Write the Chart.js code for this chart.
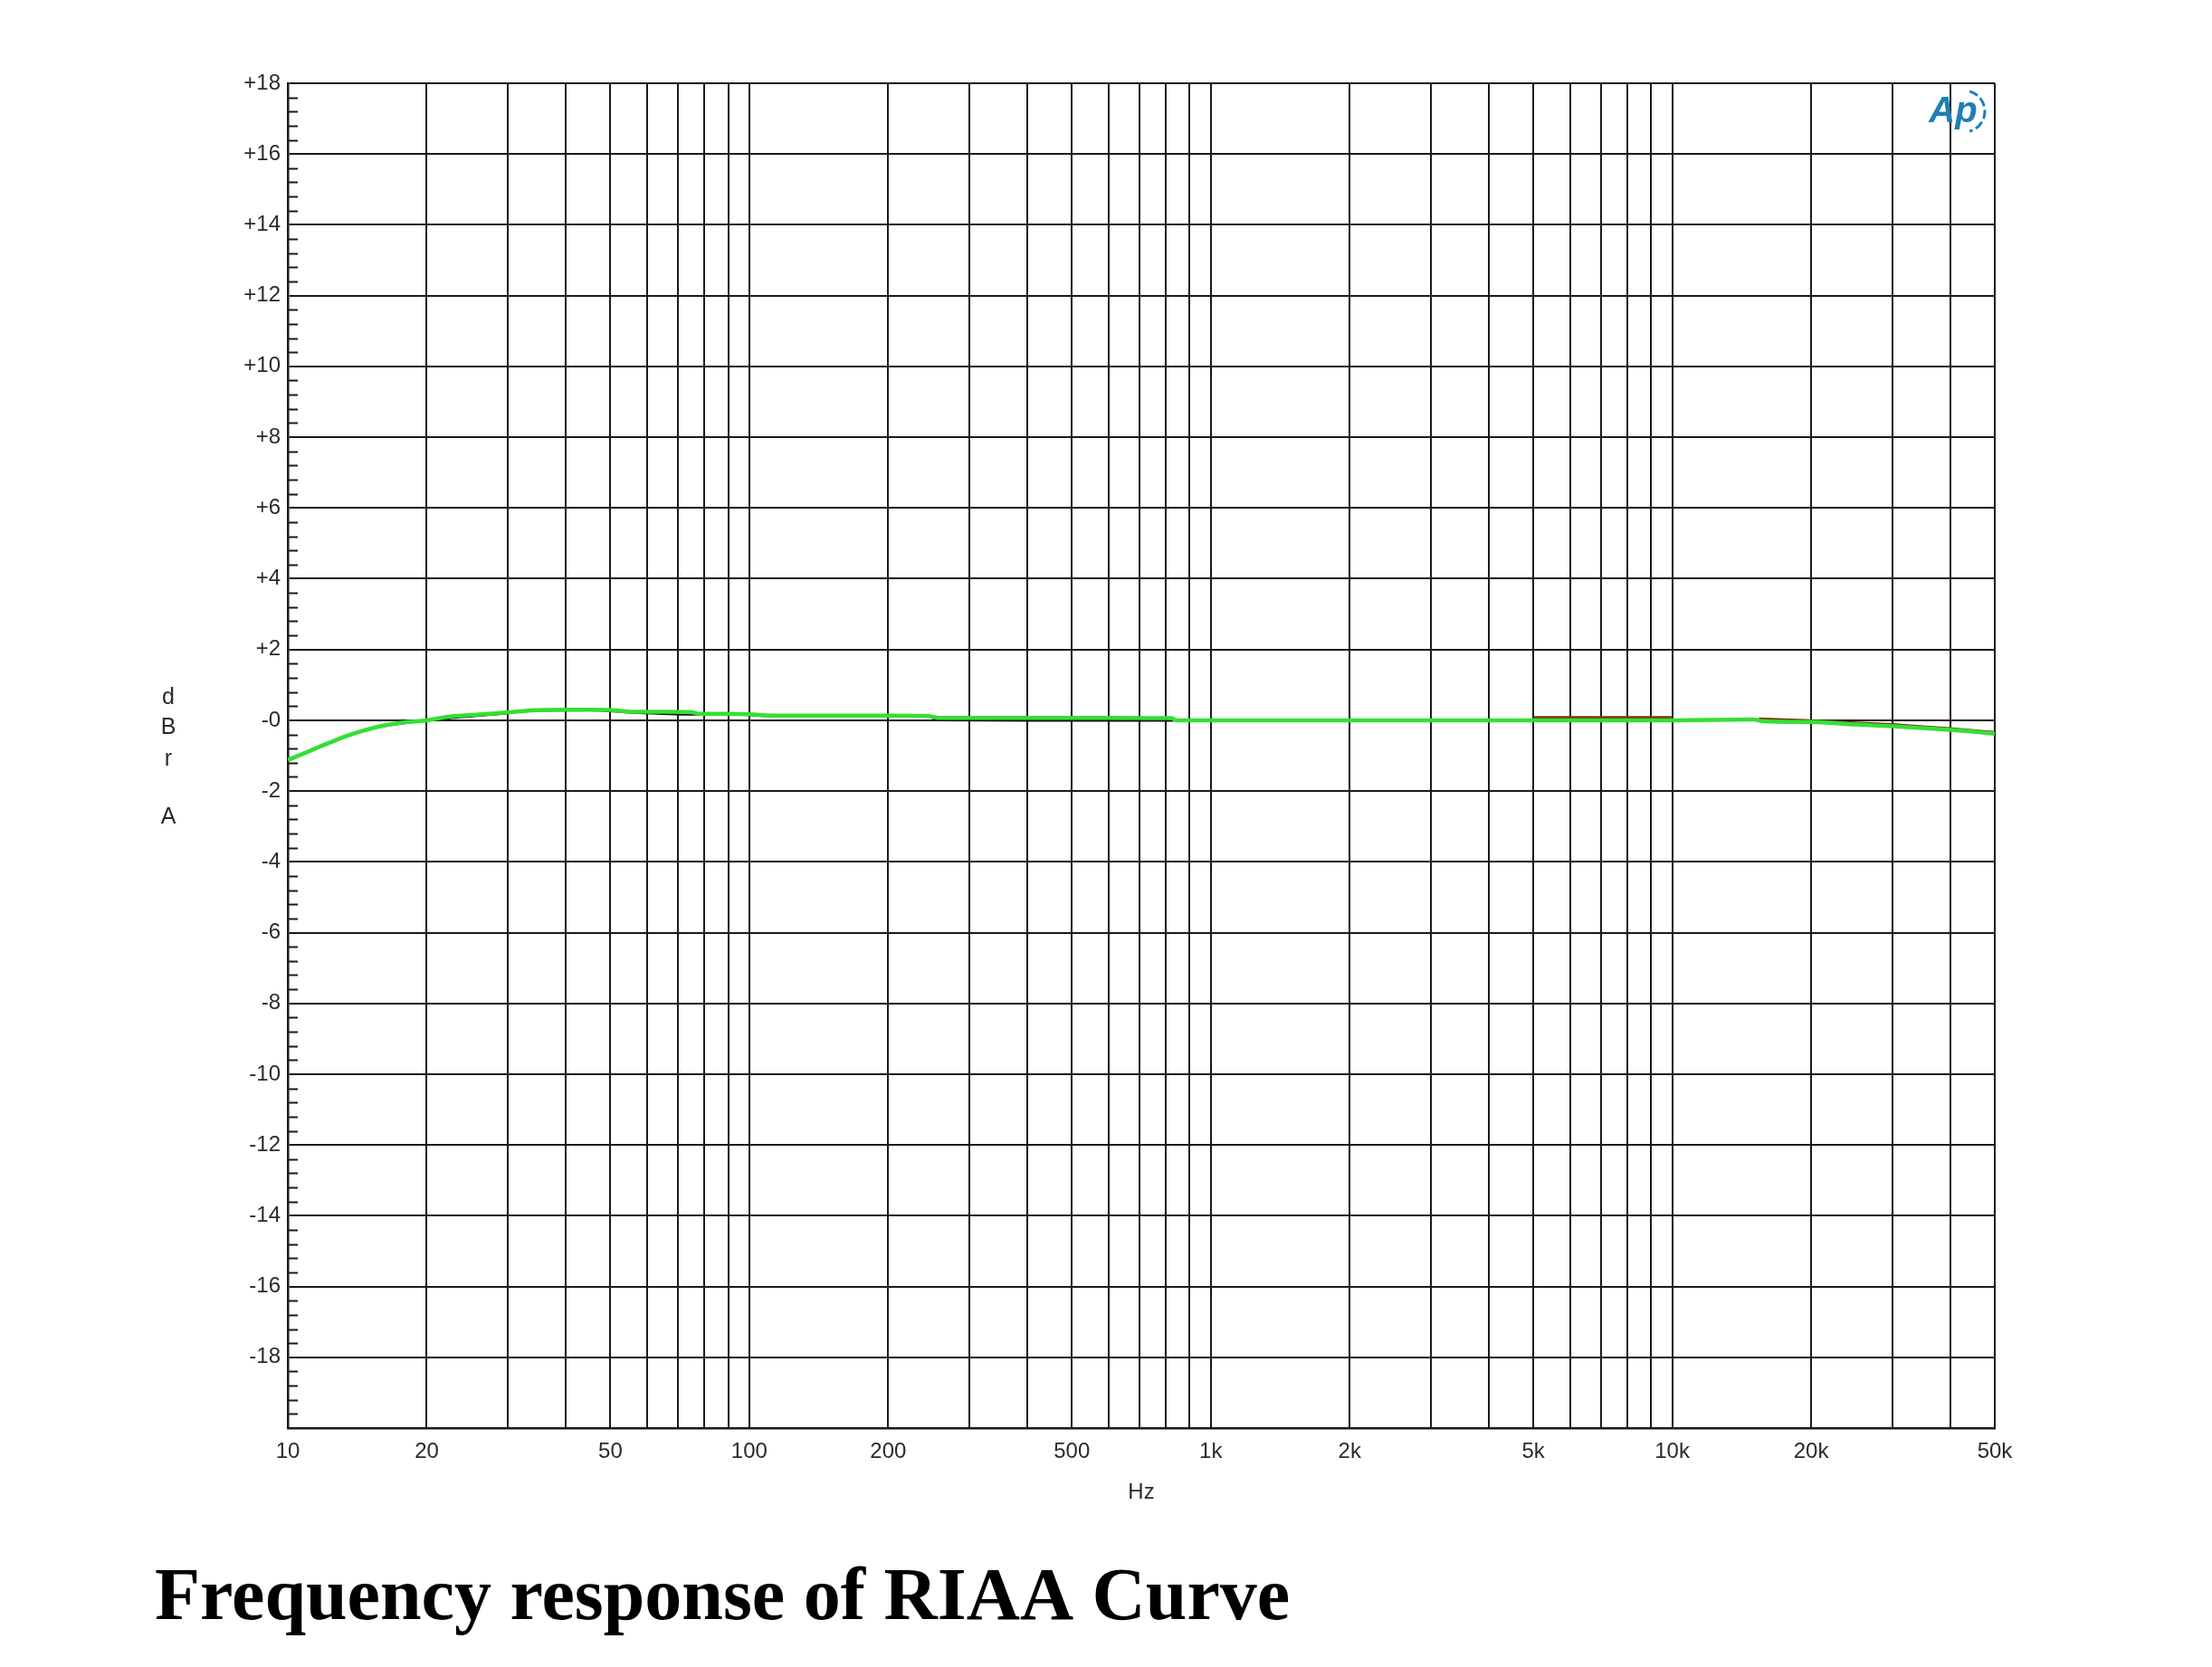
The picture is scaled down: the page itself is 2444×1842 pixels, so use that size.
<!DOCTYPE html>
<html>
<head>
<meta charset="utf-8">
<title>Frequency response of RIAA Curve</title>
<script src="https://cdn.jsdelivr.net/npm/chart.js@4.4.1/dist/chart.umd.min.js"></script>
<style>
    html, body { margin: 0; padding: 0; background: #ffffff; }
    #wrap { width: 2444px; height: 1842px; }
</style>
</head>
<body>
<div id="wrap"><canvas id="riaaChart" width="2444" height="1842"></canvas></div>
<script>
// Частоты (Гц) и уровни (дБ)
const greenFreq = [10, 11, 11.6, 12.5, 13.5, 14.5, 15.7, 17, 18.2, 20, 21.5, 22.9, 25, 27, 28.7, 31, 33.5, 40, 45, 50, 53, 56, 65, 75, 78, 90, 100, 109, 150, 200, 245, 256, 400, 600, 820, 845, 1000, 2000, 5000, 10000, 15000, 15800, 20000, 25000, 30000, 35000, 40000, 45000, 50000];
const greenDb = [-1.12, -0.9, -0.77, -0.6, -0.43, -0.3, -0.18, -0.1, -0.05, 0.0, 0.07, 0.12, 0.15, 0.18, 0.2, 0.24, 0.28, 0.3, 0.3, 0.29, 0.26, 0.24, 0.24, 0.23, 0.18, 0.18, 0.17, 0.14, 0.13, 0.13, 0.12, 0.07, 0.07, 0.07, 0.06, 0.0, 0.0, 0.0, 0.0, 0.0, 0.02, -0.03, -0.05, -0.12, -0.17, -0.22, -0.27, -0.32, -0.38];

const blackFreq = [10, 11.6, 13.5, 15.7, 18.2, 20, 22.9, 25, 28.7, 33.5, 45, 55, 76, 100, 109, 245, 256, 400, 600, 830];
const blackDb = [-1.13, -0.78, -0.44, -0.19, -0.06, -0.01, 0.08, 0.12, 0.18, 0.27, 0.29, 0.23, 0.17, 0.16, 0.13, 0.12, 0.01, 0.0, 0.0, 0.0];

const redFreq = [5000, 7000, 10000, 12500, 15400, 20000, 25000, 30000, 35000, 40000, 45000, 50000];
const redDb = [0.08, 0.08, 0.08, null, 0.04, -0.01, -0.07, -0.12, -0.18, -0.23, -0.29, -0.34];

// Сетка и подписи осей
const xGrid = [10, 20, 30, 40, 50, 60, 70, 80, 90, 100, 200, 300, 400, 500, 600, 700, 800, 900, 1000, 2000, 3000, 4000, 5000, 6000, 7000, 8000, 9000, 10000, 20000, 30000, 40000, 50000];
const xLabelValues = [10, 20, 50, 100, 200, 500, 1000, 2000, 5000, 10000, 20000, 50000];
const xLabelTexts = ['10', '20', '50', '100', '200', '500', '1k', '2k', '5k', '10k', '20k', '50k'];
const yTickValues = [18, 16, 14, 12, 10, 8, 6, 4, 2, 0, -2, -4, -6, -8, -10, -12, -14, -16, -18, -20];
const yLabelTexts = ['+18', '+16', '+14', '+12', '+10', '+8', '+6', '+4', '+2', '-0', '-2', '-4', '-6', '-8', '-10', '-12', '-14', '-16', '-18', ''];
const yAxisLetters = ['d', 'B', 'r', '', 'A'];

const GRID = '#1a1a1a';
const TEXT = '#2a2a2a';
const SANS = "'Liberation Sans', Arial, sans-serif";

function toPoints(xs, ys) {
    return xs.map((f, i) => ({ x: f, y: ys[i] }));
}

// Мелкие деления слева, подпись оси Y буквами и логотип
const extrasPlugin = {
    id: 'extras',
    beforeDatasetsDraw(chart) {
        const ctx = chart.ctx;
        const y = chart.scales.y;
        const left = chart.chartArea.left;
        ctx.save();
        ctx.strokeStyle = GRID;
        ctx.lineWidth = 2;
        for (let i = 0; i <= 95; i++) {
            const v = -20 + i * 0.4;
            if (i % 5 === 0) continue;
            const py = Math.round(y.getPixelForValue(v)) + 0.5;
            ctx.beginPath();
            ctx.moveTo(left, py);
            ctx.lineTo(left + 11, py);
            ctx.stroke();
        }
        ctx.restore();
    },
    afterDraw(chart) {
        const ctx = chart.ctx;
        const area = chart.chartArea;
        ctx.save();
        // dBr A
        ctx.fillStyle = TEXT;
        ctx.font = '25px ' + SANS;
        ctx.textAlign = 'center';
        ctx.textBaseline = 'middle';
        const midY = (area.top + area.bottom) / 2;
        const offsets = [-64, -31, 4, 36, 68];
        yAxisLetters.forEach((ch, i) => {
            if (ch) ctx.fillText(ch, 186, midY + offsets[i]);
        });
        // логотип AP
        ctx.fillStyle = '#1f7fb4';
        ctx.strokeStyle = '#1f7fb4';
        ctx.font = 'italic bold 40px ' + SANS;
        ctx.fillText('Ap', area.right - 46, area.top + 32);
        ctx.lineWidth = 3;
        ctx.setLineDash([10, 4]);
        ctx.beginPath();
        ctx.arc(area.right - 34, area.top + 31, 23, -1.3, 1.3);
        ctx.stroke();
        ctx.restore();
    }
};

const chartConfig = {
    type: 'line',
    data: {
        datasets: [
            {
                label: 'Green',
                data: toPoints(greenFreq, greenDb),
                borderColor: '#33e033',
                borderWidth: 4.5,
                pointRadius: 0,
                cubicInterpolationMode: 'monotone',
                fill: false
            },
            {
                label: 'Black',
                data: toPoints(blackFreq, blackDb),
                borderColor: '#111111',
                borderWidth: 3,
                pointRadius: 0,
                cubicInterpolationMode: 'monotone',
                fill: false
            },
            {
                label: 'Red',
                data: toPoints(redFreq, redDb),
                borderColor: '#7d3510',
                borderWidth: 3,
                pointRadius: 0,
                spanGaps: false,
                fill: false
            }
        ]
    },
    options: {
        responsive: false,
        animation: false,
        layout: {
            padding: { left: 171, top: 92, right: 240, bottom: 0 }
        },
        plugins: {
            legend: { display: false },
            tooltip: { enabled: false },
            title: {
                display: true,
                text: 'Frequency response of RIAA Curve',
                position: 'bottom',
                align: 'start',
                color: '#000000',
                font: { family: "'Liberation Serif', 'Times New Roman', serif", size: 82, weight: 'bold', lineHeight: 1.2 },
                padding: { top: 0, bottom: 25 }
            }
        },
        scales: {
            x: {
                type: 'logarithmic',
                min: 10,
                max: 50000,
                afterBuildTicks(scale) {
                    scale.ticks = xGrid.map(v => ({ value: v }));
                },
                afterFit(scale) {
                    scale.height = 140.6;
                },
                ticks: {
                    autoSkip: false,
                    maxRotation: 0,
                    padding: 12,
                    color: TEXT,
                    font: { family: SANS, size: 24 },
                    callback(value) {
                        const idx = xLabelValues.indexOf(value);
                        return idx >= 0 ? xLabelTexts[idx] : '';
                    }
                },
                grid: { color: GRID, lineWidth: 2, drawTicks: false },
                border: { display: true, color: GRID, width: 2.5 },
                title: {
                    display: true,
                    text: 'Hz',
                    color: TEXT,
                    font: { family: SANS, size: 24 },
                    padding: { top: 0, bottom: 55 }
                }
            },
            y: {
                type: 'linear',
                min: -20,
                max: 18,
                afterBuildTicks(scale) {
                    scale.ticks = yTickValues.map(v => ({ value: v }));
                },
                afterFit(scale) {
                    scale.width = 147;
                },
                ticks: {
                    autoSkip: false,
                    padding: 8,
                    color: TEXT,
                    font: { family: SANS, size: 24 },
                    callback(value) {
                        const idx = yTickValues.indexOf(value);
                        return idx >= 0 ? yLabelTexts[idx] : '';
                    }
                },
                grid: { color: GRID, lineWidth: 2, drawTicks: false },
                border: { display: true, color: GRID, width: 2.5 }
            }
        }
    },
    plugins: [extrasPlugin]
};

new Chart(document.getElementById('riaaChart'), chartConfig);
</script>
</body>
</html>
